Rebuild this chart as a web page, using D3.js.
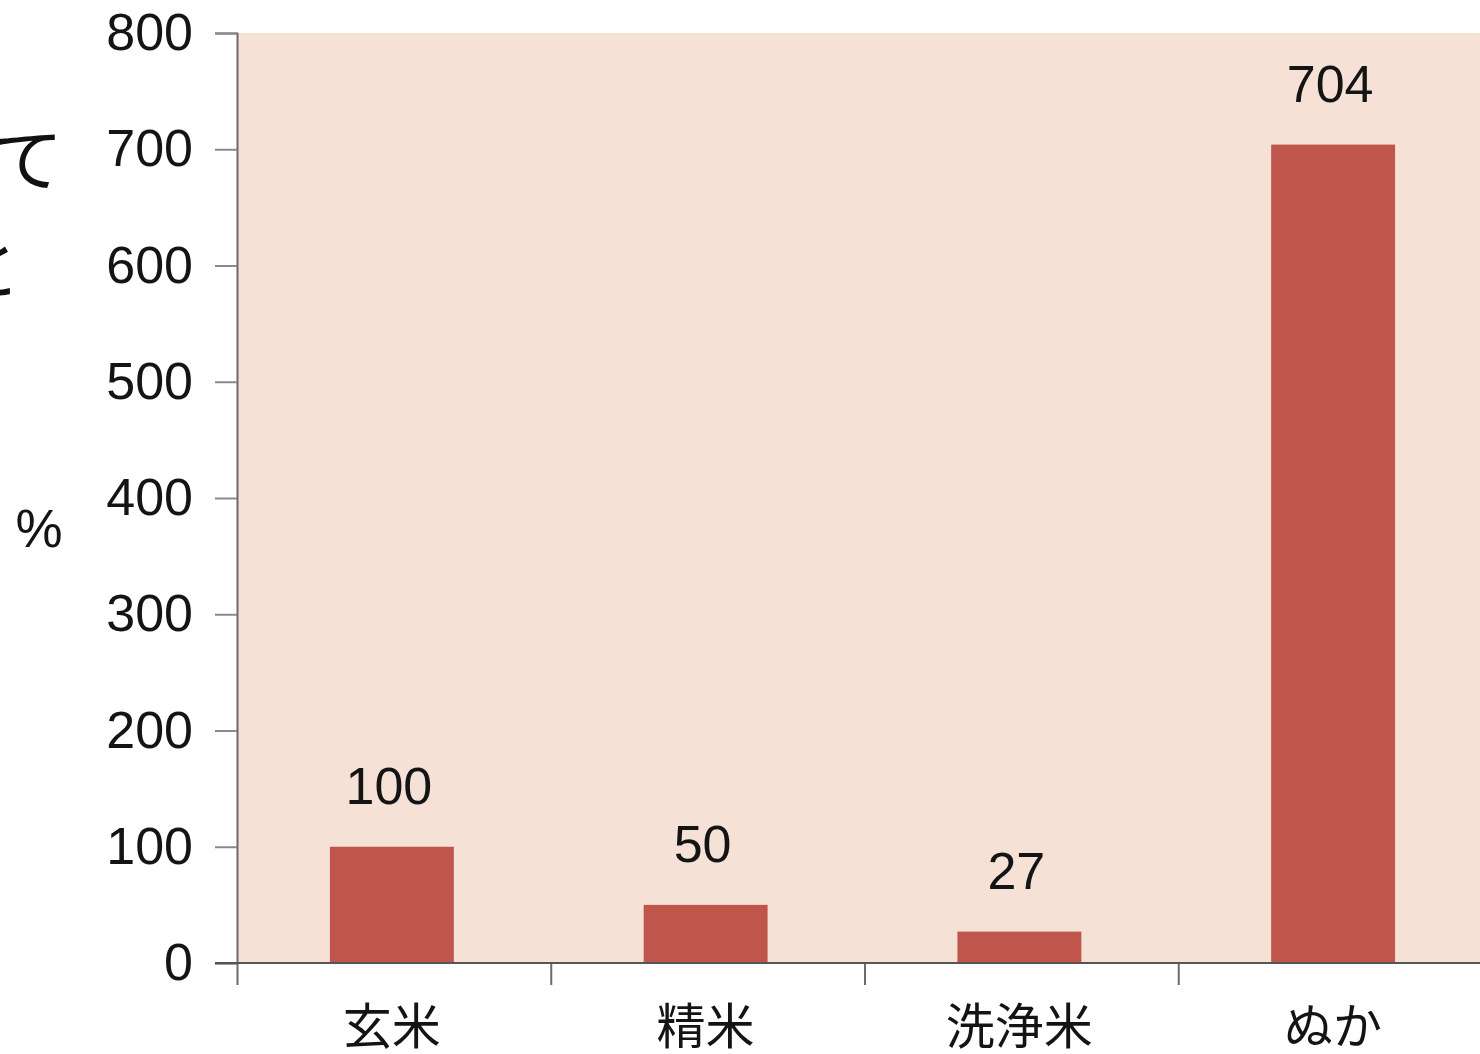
<!DOCTYPE html>
<html>
<head>
<meta charset="utf-8">
<script src="https://cdn.jsdelivr.net/npm/d3@7"></script>
<style>
  html, body { margin: 0; padding: 0; background: #ffffff; }
  svg { display: block; }
</style>
</head>
<body>
<svg id="chart" width="1480" height="1054"></svg>
<script>
// Relative content (%), 玄米 = 100
const categories = ["玄米", "精米", "洗浄米", "ぬか"];
const values = [100, 50, 27, 704];
const yTicks = [0, 100, 200, 300, 400, 500, 600, 700, 800];
const yUnit = "%";
const sideText = ["て", "と"];

const svg = d3.select("#chart");
const W = 1480, H = 1054;
const plotLeft = 237, plotTop = 33, plotBottom = 963, plotRight = 1492;

const latin = "'Liberation Sans', Arial, Helvetica, sans-serif";
const cjk = "'Noto Sans CJK JP', 'Noto Sans', sans-serif";

const x = d3.scaleBand().domain(categories).range([plotLeft, plotRight]).paddingInner(0).paddingOuter(0);
const y = d3.scaleLinear().domain([0, 800]).range([plotBottom, plotTop]);

// plot background
svg.append("rect")
  .attr("x", plotLeft).attr("y", plotTop)
  .attr("width", W - plotLeft).attr("height", plotBottom - plotTop)
  .attr("fill", "#f6e1d7");

// bars
const barW = x.bandwidth() * 0.395;
svg.append("g").selectAll("rect")
  .data(values)
  .join("rect")
  .attr("x", (d, i) => x(categories[i]) + x.bandwidth() / 2 - barW / 2 - 2)
  .attr("y", d => y(d))
  .attr("width", barW)
  .attr("height", d => y(0) - y(d))
  .attr("fill", "#c0554b");

// value labels
svg.append("g").selectAll("text")
  .data(values)
  .join("text")
  .attr("x", (d, i) => x(categories[i]) + x.bandwidth() / 2 - 5)
  .attr("y", d => y(d) - 43)
  .attr("text-anchor", "middle")
  .attr("font-family", latin)
  .attr("font-size", 52)
  .attr("fill", "#141414")
  .text(d => d);

// y axis
const yAxis = d3.axisLeft(y).tickValues(yTicks).tickSize(22).tickPadding(22).tickFormat(d3.format("d"));
const gy = svg.append("g").attr("transform", `translate(${plotLeft},0)`).call(yAxis);
gy.select(".domain").attr("stroke", "#6b6b6b").attr("stroke-width", 2);
gy.selectAll(".tick line").attr("stroke", "#8a8a8a").attr("stroke-width", 2);
gy.selectAll(".tick text")
  .attr("font-family", latin).attr("font-size", 52).attr("fill", "#141414");

// x axis: ticks at band boundaries
const xAxisScale = d3.scaleLinear().domain([0, categories.length]).range([plotLeft, plotRight]);
const xAxis = d3.axisBottom(xAxisScale).tickValues(d3.range(categories.length)).tickSize(22).tickFormat("");
const gx = svg.append("g").attr("transform", `translate(0,${plotBottom})`).call(xAxis);
gx.select(".domain").remove();
gx.append("line")
  .attr("x1", plotLeft - 22).attr("x2", W)
  .attr("y1", 0).attr("y2", 0)
  .attr("stroke", "#555").attr("stroke-width", 2);
gx.selectAll(".tick line").attr("stroke", "#6b6b6b").attr("stroke-width", 2);

// category labels
svg.append("g").selectAll("text")
  .data(categories)
  .join("text")
  .attr("x", d => x(d) + x.bandwidth() / 2 - 2)
  .attr("y", 1044)
  .attr("text-anchor", "middle")
  .attr("font-family", cjk)
  .attr("font-size", 49)
  .attr("fill", "#141414")
  .text(d => d);

// unit label
svg.append("text")
  .attr("x", 39).attr("y", 547)
  .attr("text-anchor", "middle")
  .attr("font-family", latin)
  .attr("font-size", 53)
  .attr("fill", "#141414")
  .text(yUnit);

// surrounding caption text, clipped at the left edge
svg.append("text")
  .attr("x", 63).attr("y", 186)
  .attr("text-anchor", "end")
  .attr("font-family", cjk)
  .attr("font-size", 70)
  .attr("fill", "#111")
  .text(sideText[0]);
svg.append("text")
  .attr("x", 21).attr("y", 294)
  .attr("text-anchor", "end")
  .attr("font-family", cjk)
  .attr("font-size", 70)
  .attr("fill", "#111")
  .text(sideText[1]);
</script>
</body>
</html>
